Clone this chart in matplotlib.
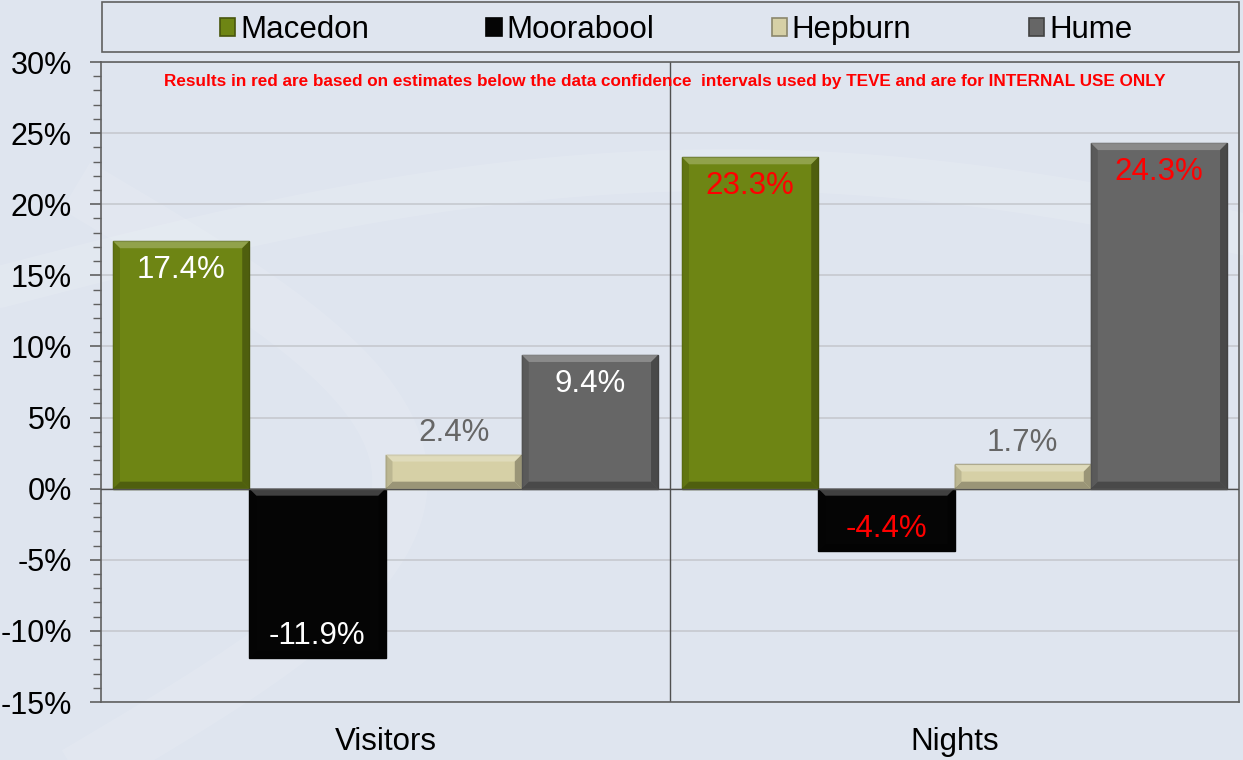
import matplotlib
matplotlib.use("Agg")
import matplotlib.pyplot as plt
import numpy as np
from matplotlib.patches import Rectangle, Patch, Polygon
from matplotlib.transforms import IdentityTransform
from matplotlib.ticker import MultipleLocator, FuncFormatter
from matplotlib.colors import to_rgb

plt.rcParams['font.family'] = ['Liberation Sans', 'DejaVu Sans']

categories = ["Visitors", "Nights"]
series = ["Macedon", "Moorabool", "Hepburn", "Hume"]
values = {
    "Macedon": [17.4, 23.3],
    "Moorabool": [-11.9, -4.4],
    "Hepburn": [2.4, 1.7],
    "Hume": [9.4, 24.3],
}
label_colors = {
    "Macedon": ["white", "#ff0000"],
    "Moorabool": ["white", "#ff0000"],
    "Hepburn": ["#666666", "#666666"],
    "Hume": ["white", "#ff0000"],
}
colors = {"Macedon": "#6e8514", "Moorabool": "#050505", "Hepburn": "#d6d0a6", "Hume": "#666666"}
note = "Results in red are based on estimates below the data confidence  intervals used by TEVE and are for INTERNAL USE ONLY"

W, H = 1243, 760
fig = plt.figure(figsize=(W / 100, H / 100), dpi=100)
bg = "#dfe5ef"
fig.patch.set_facecolor(bg)

# faint background swoosh
bgax = fig.add_axes([0, 0, 1, 1], zorder=-10)
bgax.set_xlim(0, W); bgax.set_ylim(H, 0); bgax.axis('off')
t = np.linspace(0, 1, 200)
bgax.plot(-50 + 1400 * t, 300 - 130 * np.sin(np.pi * t * 0.9), color="white", alpha=0.12, lw=30, solid_capstyle='round')
bgax.plot(100 + 300 * np.sin(np.pi * t), 200 + 560 * t, color="white", alpha=0.10, lw=40)

ax = fig.add_axes([101 / W, 1 - 702 / H, (1239 - 101) / W, (702 - 62) / H])
ax.set_facecolor("none")

x = np.arange(len(categories))
w = 0.2395
offsets = [-1.5 * w, -0.5 * w, 0.5 * w, 1.5 * w]

ax.set_xlim(-0.5, 1.5)
ax.set_ylim(-15, 30)

def mix(c, other, f):
    a = np.array(to_rgb(c)); b = np.array(to_rgb(other))
    return tuple(a * (1 - f) + b * f)

all_bars = []
for s, off in zip(series, offsets):
    vals = values[s]
    bars = ax.bar(x + off, vals, width=w, color=colors[s], edgecolor=mix(colors[s], "black", 0.35),
                  linewidth=1.0, zorder=3)
    all_bars.append((s, bars))
    for b, v, lc in zip(bars, vals, label_colors[s]):
        cx = b.get_x() + b.get_width() / 2
        if s == "Hepburn":
            ax.annotate(f"{v:.1f}%", (cx, v), xytext=(0, 5), textcoords="offset points",
                        ha="center", va="bottom", color=lc, fontsize=22.5, zorder=6)
        elif v >= 0:
            ax.annotate(f"{v:.1f}%", (cx, v), xytext=(0, -10), textcoords="offset points",
                        ha="center", va="top", color=lc, fontsize=22.5, zorder=6)
        else:
            ax.annotate(f"{v:.1f}%", (cx, v), xytext=(0, 5), textcoords="offset points",
                        ha="center", va="bottom", color=lc, fontsize=22.5, zorder=6)

ax.yaxis.set_major_locator(MultipleLocator(5))
ax.yaxis.set_minor_locator(MultipleLocator(1))
ax.yaxis.set_major_formatter(FuncFormatter(lambda v, p: f"{v:.0f}%"))
ax.grid(axis='y', which='major', color="#c6c9cf", lw=1.2, zorder=0)
ax.axhline(0, color="#505050", lw=1, zorder=4)
ax.axvline(0.5, color="#505050", lw=1, zorder=2)
ax.set_xticks(x)
ax.set_xticklabels(categories)
ax.tick_params(axis='x', length=0, pad=18, labelsize=22.5)
ax.tick_params(axis='y', which='major', length=8, width=1.2, color="#606060", pad=13, labelsize=22, direction='out')
ax.tick_params(axis='y', which='minor', length=6, width=1, color="#606060", direction='out')
for sp in ax.spines.values():
    sp.set_color("#606060")
    sp.set_linewidth(1.2)

ax.text(0.495, 0.969, note, transform=ax.transAxes, ha="center", va="center",
        color="#ff0000", fontsize=12.3, fontweight="bold", zorder=6)

# bevel effect on bars (drawn in pixel space from the bars' own geometry)
fig.canvas.draw()
bv = 7
for s, bars in all_bars:
    base = colors[s]
    light = mix(base, "white", 0.3)
    dark = mix(base, "black", 0.35)
    side = mix(base, "black", 0.15)
    for b in bars:
        (x0, y0), (x1, y1) = ax.transData.transform([(b.get_x(), min(0, b.get_height())),
                                                      (b.get_x() + b.get_width(), max(0, b.get_height()))])
        e = min(bv, (y1 - y0) / 2.5)
        polys = [
            ([(x0, y1), (x1, y1), (x1 - e, y1 - e), (x0 + e, y1 - e)], light),
            ([(x0, y0), (x1, y0), (x1 - e, y0 + e), (x0 + e, y0 + e)], dark),
            ([(x1, y0), (x1, y1), (x1 - e, y1 - e), (x1 - e, y0 + e)], dark),
            ([(x0, y0), (x0, y1), (x0 + e, y1 - e), (x0 + e, y0 + e)], side),
        ]
        for pts, c in polys:
            ax.add_patch(Polygon(pts, closed=True, transform=IdentityTransform(), facecolor=c,
                                 edgecolor="none", alpha=0.8, zorder=3.5))

# legend box
fig.patches.append(Rectangle((102 / W, 1 - 52 / H), (1239 - 102) / W, 50 / H, transform=fig.transFigure,
                             facecolor=bg, edgecolor="#606060", lw=1.2))
handles = [Patch(facecolor=colors[s], edgecolor=mix(colors[s], "black", 0.35), lw=1.2) for s in series]
fig.legend(handles, series, loc="center", bbox_to_anchor=(676 / W, 1 - 30 / H), ncol=4, frameon=False,
           fontsize=22.5, handlelength=0.5, handleheight=0.5, handletextpad=0.15, columnspacing=3.75)

fig.savefig("out.png", dpi=100, facecolor=fig.get_facecolor())
